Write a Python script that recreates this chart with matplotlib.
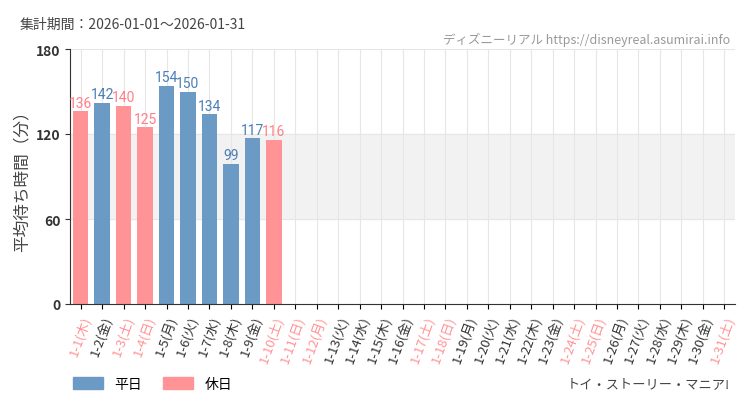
import matplotlib
matplotlib.use("Agg")
import matplotlib.pyplot as plt
from matplotlib.patches import Patch
import datetime

plt.rcParams['font.family'] = ['Noto Sans CJK JP', 'DejaVu Sans']

days = list(range(1, 32))
values = [136, 142, 140, 125, 154, 150, 134, 99, 117, 116] + [None]*21
holidays = [1, 3, 4, 10, 11, 12, 17, 18, 24, 25, 31]
wd = ['月', '火', '水', '木', '金', '土', '日']
labels = [f"1-{d}({wd[datetime.date(2026,1,d).weekday()]})" for d in days]

BLUE = '#6b9ac4'
PINK = '#ff9396'
BLUE_T = '#4a7fb5'
PINK_T = '#ff7f86'

fig = plt.figure(figsize=(7.5, 4.1), dpi=100)
ax = fig.add_axes([70/750, 1-305/410, 665/750, 255/410])
ax.axhspan(60, 120, color='#f2f2f2', zorder=0)
for i, (d, v) in enumerate(zip(days, values)):
    ax.axvline(i, color='#e6e6e6', lw=0.8, zorder=0)
    if v is None:
        continue
    hol = d in holidays
    ax.bar(i, v, width=0.72, color=PINK if hol else BLUE, zorder=2)
    ax.text(i, v + 1, str(v), ha='center', va='bottom', fontsize=10,
            color=PINK_T if hol else BLUE_T, fontfamily='Roboto', fontstretch='condensed')
for y in [60, 120, 180]:
    ax.axhline(y, color='#e6e6e6', lw=0.8, zorder=0)
ax.set_xlim(-0.5, 30.5)
ax.set_ylim(0, 180)
ax.set_yticks([0, 60, 120, 180])
ax.tick_params(axis='y', labelsize=10, colors='#333333')
for t in ax.get_yticklabels():
    t.set_fontweight('bold')
ax.set_xticks(range(len(days)))
ax.set_xticklabels(labels, rotation=70, ha='right', rotation_mode='anchor', fontsize=9.5)
for t, d in zip(ax.get_xticklabels(), days):
    t.set_color(PINK if d in holidays else '#333333')
ax.set_ylabel('平均待ち時間（分）', fontsize=12, color='#444444')
for s in ['top', 'right']:
    ax.spines[s].set_visible(False)
ax.spines['left'].set_color('#333333')
ax.spines['bottom'].set_color('#333333')

fig.text(20/750, 1-25/410, '集計期間：2026-01-01～2026-01-31', fontsize=10, color='#444444', va='center')
fig.text(730/750, 1-40/410, 'ディズニーリアル https://disneyreal.asumirai.info', fontsize=9,
         color='#999999', ha='right', va='center')
fig.text(730/750, 1-385/410, 'トイ・ストーリー・マニア!', fontsize=9.5, color='#444444', ha='right', va='center')
fig.legend(handles=[Patch(color=BLUE, label='平日'), Patch(color=PINK, label='休日')],
           loc='center left', bbox_to_anchor=(60/750, 1-385/410), ncol=2, frameon=False,
           fontsize=10, handlelength=2.2, handleheight=0.9, columnspacing=1.5)
fig.savefig('out.png')
